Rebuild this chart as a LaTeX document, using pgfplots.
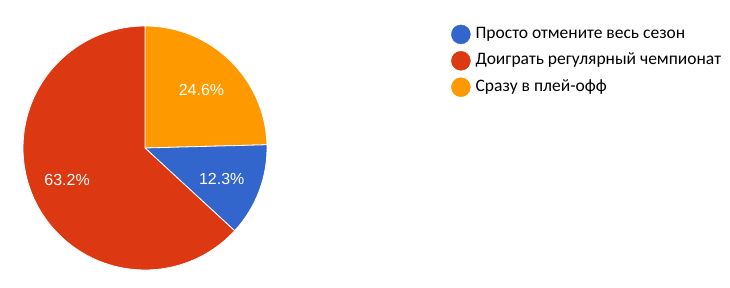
\documentclass[border=0pt]{standalone}
\usepackage{pgfplots}
\pgfplotsset{compat=1.18}
\usepackage{pgfplotstable}
\usepackage{fontspec}
\setmainfont{Liberation Sans}
\newfontfamily\legfont{Carlito}
\definecolor{gblue}{HTML}{3366CC}
\definecolor{gred}{HTML}{DC3912}
\definecolor{gorange}{HTML}{FF9900}

% slices in drawing order, clockwise from 12 o'clock
\pgfplotstableread{
name value
orange 24.6
blue 12.3
red 63.2
}\piedata

\begin{document}
\begin{tikzpicture}
\pgfplotstablegetelem{0}{value}\of\piedata \let\vA\pgfplotsretval
\pgfplotstablegetelem{1}{value}\of\piedata \let\vB\pgfplotsretval
\pgfplotstablegetelem{2}{value}\of\piedata \let\vC\pgfplotsretval
\pgfmathsetmacro\tot{\vA+\vB+\vC}
\pgfmathsetmacro\k{360/\tot}
\pgfmathsetmacro\aA{90}
\pgfmathsetmacro\aB{\aA-\k*\vA}
\pgfmathsetmacro\aC{\aB-\k*\vB}
\pgfmathsetmacro\aD{\aC-\k*\vC}
\pgfmathsetmacro\mA{(\aA+\aB)/2}
\pgfmathsetmacro\mB{(\aB+\aC)/2}
\pgfmathsetmacro\mC{(\aC+\aD)/2}
\begin{axis}[
  hide axis, scale only axis,
  width=730pt, height=287pt,
  xmin=0, xmax=730, ymin=0, ymax=287,
  clip=false,
  legend cell align=left,
  legend style={draw=none, fill=none, at={(axis cs:451,262.5)}, anchor=north west,
    inner sep=0pt, row sep=7pt,
    font=\legfont\fontsize{17.5}{20}\selectfont,
    nodes={inner sep=0pt, text height=12pt, text depth=4pt},
    /tikz/every odd column/.append style={column sep=5pt}},
]
\path (axis cs:0,0) rectangle (axis cs:730,287);
\fill[gorange, draw=white, line width=0.8pt] (axis cs:145,139) -- ++(\aA:122pt) arc[start angle=\aA, end angle=\aB, radius=122pt] -- cycle;
\fill[gblue, draw=white, line width=0.8pt] (axis cs:145,139) -- ++(\aB:122pt) arc[start angle=\aB, end angle=\aC, radius=122pt] -- cycle;
\fill[gred, draw=white, line width=0.8pt] (axis cs:145,139) -- ++(\aC:122pt) arc[start angle=\aC, end angle=\aD, radius=122pt] -- cycle;
\path (axis cs:145,139) ++(\mA:81pt) node[white, font=\fontsize{16}{19}\selectfont] {\vA\%};
\path (axis cs:145,139) ++(\mB:82pt) ++(0,-2pt) node[white, font=\fontsize{16}{19}\selectfont] {\vB\%};
\path (axis cs:145,139) ++(\mC:84pt) ++(-1pt,2pt) node[white, font=\fontsize{16}{19}\selectfont] {\vC\%};

\addlegendimage{legend image code/.code={\fill[gblue] (0pt,0pt) circle (9.5pt);}}
\addlegendentry{Просто отмените весь сезон}
\addlegendimage{legend image code/.code={\fill[gred] (0pt,0pt) circle (9.5pt);}}
\addlegendentry{Доиграть регулярный чемпионат}
\addlegendimage{legend image code/.code={\fill[gorange] (0pt,0pt) circle (9.5pt);}}
\addlegendentry{Сразу в плей-офф}
\end{axis}
\end{tikzpicture}
\end{document}
